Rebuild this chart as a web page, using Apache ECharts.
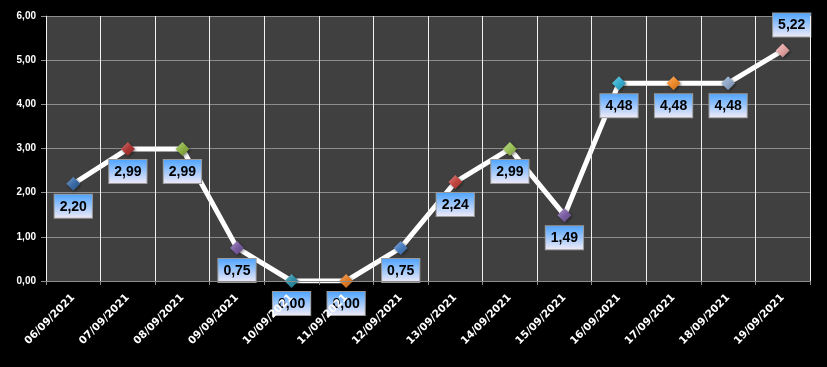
<!DOCTYPE html>
<html>
<head>
<meta charset="utf-8">
<script src="https://cdn.jsdelivr.net/npm/echarts@6/dist/echarts.min.js"></script>
<style>
html,body{margin:0;padding:0;background:#000;}
#c{width:827px;height:367px;}
</style>
</head>
<body>
<div id="c"></div>
<script>
var categories = ['06/09/2021','07/09/2021','08/09/2021','09/09/2021','10/09/2021','11/09/2021','12/09/2021','13/09/2021','14/09/2021','15/09/2021','16/09/2021','17/09/2021','18/09/2021','19/09/2021'];
var values = [2.20, 2.99, 2.99, 0.75, 0.00, 0.00, 0.75, 2.24, 2.99, 1.49, 4.48, 4.48, 4.48, 5.22];
var yTicks = [0, 1, 2, 3, 4, 5, 6];
var pointColors = ['#3a6aa6','#ac3634','#8cb044','#7a5ca0','#2e8fa6','#e27c26','#4a7ec0','#c2463f','#9bc158','#7b5ea4','#36aed0','#f08a2a','#8fa7c9','#e3a3a3'];

function fmt(v){ return v.toFixed(2).replace('.', ','); }

function lighten(hex, f){
  var r=parseInt(hex.substr(1,2),16), g=parseInt(hex.substr(3,2),16), b=parseInt(hex.substr(5,2),16);
  r=Math.round(r+(255-r)*f); g=Math.round(g+(255-g)*f); b=Math.round(b+(255-b)*f);
  return 'rgb('+r+','+g+','+b+')';
}
function darken(hex, f){
  var r=parseInt(hex.substr(1,2),16), g=parseInt(hex.substr(3,2),16), b=parseInt(hex.substr(5,2),16);
  r=Math.round(r*(1-f)); g=Math.round(g*(1-f)); b=Math.round(b*(1-f));
  return 'rgb('+r+','+g+','+b+')';
}

var labelBg = {type:'linear', x:0, y:0, x2:0, y2:1, colorStops:[{offset:0,color:'#4aa2ff'},{offset:1,color:'#f3ecf7'}]};

var seriesData = values.map(function(v, i){
  var d = {
    value: v,
    itemStyle: {
      color: {type:'linear', x:0, y:0, x2:1, y2:1, colorStops:[{offset:0,color:lighten(pointColors[i],0.35)},{offset:0.5,color:pointColors[i]},{offset:1,color:darken(pointColors[i],0.25)}]},
      shadowColor:'rgba(0,0,0,0.5)', shadowBlur:3, shadowOffsetX:1, shadowOffsetY:1
    }
  };
  if (i === values.length - 1) {
    d.label = { position: 'top', distance: 7, offset: [9, 0] };
  }
  return d;
});

var chart = echarts.init(document.getElementById('c'), null, {renderer:'canvas'});
chart.setOption({
  backgroundColor: '#000000',
  animation: false,
  grid: { left: 46, right: 17, top: 16, bottom: 86, show: true, backgroundColor: '#404040', borderWidth: 0 },
  xAxis: {
    type: 'category',
    data: categories,
    boundaryGap: true,
    z: 5,
    axisLine: { show: true, lineStyle: { color: '#8c8c8c', width: 1 } },
    axisTick: { show: true, length: 4, lineStyle: { color: '#8c8c8c' } },
    splitLine: { show: true, lineStyle: { color: '#f2f2f2', width: 1 } },
    axisLabel: { rotate: 45, margin: 15, color: '#ffffff', fontFamily: 'DejaVu Sans', fontWeight: 'bold', fontSize: 10.5, interval: 0 }
  },
  yAxis: {
    type: 'value',
    min: yTicks[0],
    max: yTicks[yTicks.length - 1],
    interval: 1,
    axisLine: { show: true, lineStyle: { color: '#8c8c8c', width: 1 } },
    axisTick: { show: true, length: 5, lineStyle: { color: '#8c8c8c' } },
    splitLine: { show: true, lineStyle: { color: '#8c8c8c', width: 1 } },
    axisLabel: { margin: 10, color: '#ffffff', fontFamily: 'Liberation Sans', fontWeight: 'bold', fontSize: 10, formatter: function(v){ return fmt(v); } }
  },
  series: [{
    type: 'line',
    data: seriesData,
    symbol: 'diamond',
    symbolSize: 14,
    showAllSymbol: true,
    lineStyle: { color: '#ffffff', width: 5 },
    z: 2,
    label: {
      show: true,
      position: 'bottom',
      distance: 4,
      formatter: function(p){ return fmt(p.value); },
      color: '#000000',
      fontFamily: 'Liberation Sans',
      fontWeight: 'bold',
      fontSize: 14,
      lineHeight: 16,
      padding: [4, 5, 3, 5],
      backgroundColor: labelBg,
      borderColor: '#9a9a9a',
      borderWidth: 1
    }
  }]
});
</script>
</body>
</html>
